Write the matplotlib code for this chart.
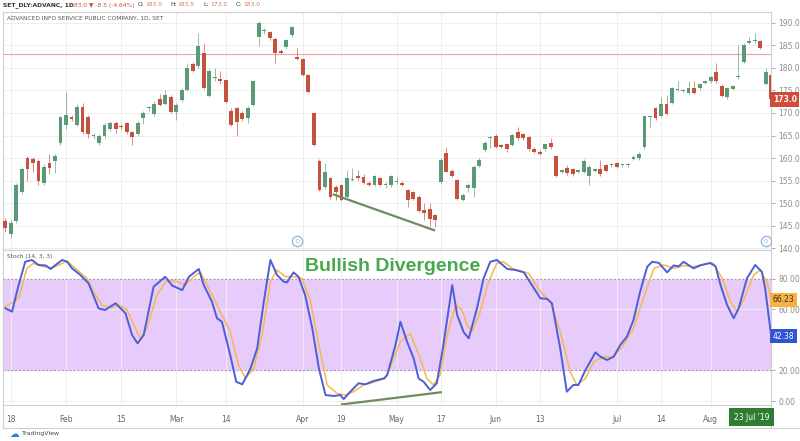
"""
ADVANC daily candles + Stoch(14,3,3) with bullish divergence annotation
"""
import matplotlib
matplotlib.use("Agg")
import matplotlib.pyplot as plt
from matplotlib.lines import Line2D
from matplotlib.transforms import blended_transform_factory

# OHLC per trading day (bar index 0 = Jan 17 2019)
opens = [146.1, 143.1, 146.1, 152.5, 160.1, 159.8, 159.4, 154.5, 159.0, 159.4,
         163.4, 167.3, 169.0, 167.3, 171.4, 169.0, 164.9, 163.4, 164.9, 166.4,
         167.8, 167.1, 167.8, 165.8, 165.3, 168.8, 171.0, 169.8, 173.0, 172.0,
         173.5, 170.3, 172.9, 175.0, 180.9, 180.4, 183.4, 173.8, 177.7, 177.5,
         177.3, 170.5, 171.0, 170.0, 168.8, 171.8, 186.8, 188.2, 187.9, 186.4,
         183.8, 184.7, 187.2, 182.4, 181.9, 178.4, 169.9, 159.4, 153.5, 155.5,
         153.6, 154.0, 151.4, 155.1, 156.0, 155.8, 154.4, 154.0, 155.5, 154.0,
         154.0, 154.7, 154.5, 152.9, 152.5, 151.4, 148.4, 148.6, 147.3, 154.7,
         161.2, 157.2, 155.1, 150.8, 153.3, 153.3, 158.3, 161.8, 164.4, 164.9,
         162.9, 163.1, 162.9, 165.8, 165.3, 164.6, 162.1, 161.4, 161.9, 163.4,
         160.4, 157.0, 157.7, 157.5, 157.0, 157.0, 156.0, 157.2, 157.5, 158.4,
         158.4, 158.8, 158.4, 158.4, 159.8, 159.9, 162.4, 169.0, 171.0, 169.3,
         171.9, 172.2, 175.1, 174.9, 174.4, 175.5, 175.5, 176.7, 177.0, 179.0,
         175.9, 173.5, 175.3, 177.9, 181.4, 185.6, 185.9, 185.9, 176.4, 178.4]
highs = [146.8, 146.3, 154.5, 158.0, 160.5, 160.2, 159.8, 158.6, 161.0, 160.8,
         169.3, 174.7, 169.5, 172.0, 172.3, 169.5, 165.6, 165.4, 167.8, 168.3,
         168.2, 167.5, 168.1, 166.0, 168.2, 170.5, 171.6, 172.6, 174.3, 175.0,
         174.0, 172.2, 175.5, 181.0, 181.2, 187.8, 185.5, 179.8, 180.0, 179.4,
         177.6, 171.0, 171.3, 170.4, 171.5, 177.3, 190.3, 188.8, 188.2, 186.8,
         184.2, 186.5, 189.3, 184.4, 182.2, 178.6, 170.2, 159.7, 158.8, 155.8,
         154.0, 154.3, 157.3, 157.8, 157.3, 156.5, 154.8, 156.3, 155.8, 154.6,
         156.3, 155.7, 154.8, 153.2, 152.8, 151.7, 150.0, 150.1, 147.6, 159.9,
         162.5, 157.5, 155.4, 152.3, 154.4, 158.4, 159.9, 163.7, 165.0, 165.3,
         163.2, 163.4, 165.4, 166.8, 165.6, 164.9, 162.4, 161.7, 163.4, 164.4,
         160.7, 157.6, 158.4, 157.8, 157.4, 159.7, 158.4, 157.6, 159.6, 158.7,
         158.8, 159.1, 158.8, 158.8, 160.6, 161.3, 169.6, 169.4, 171.3, 173.5,
         174.0, 175.8, 177.0, 175.4, 177.0, 177.0, 176.7, 177.4, 178.2, 181.0,
         176.4, 175.8, 176.2, 185.0, 185.5, 186.8, 187.8, 186.2, 180.0, 178.7]
lows = [143.5, 142.2, 145.5, 152.0, 155.0, 157.0, 154.0, 154.0, 156.5, 156.7,
        163.0, 166.5, 168.2, 167.0, 165.3, 164.5, 164.3, 162.8, 164.5, 166.0,
        165.5, 166.5, 165.3, 163.0, 165.0, 167.5, 170.5, 169.3, 171.5, 171.8,
        170.0, 168.5, 172.5, 174.8, 179.0, 180.0, 175.3, 173.5, 177.0, 176.5,
        172.2, 167.0, 164.8, 168.3, 167.8, 171.5, 184.9, 187.5, 186.2, 181.0,
        183.0, 184.3, 186.8, 181.7, 178.1, 174.5, 162.6, 152.6, 153.2, 151.0,
        150.7, 150.5, 151.1, 154.8, 155.2, 154.2, 153.8, 153.7, 153.8, 153.3,
        153.6, 154.3, 153.8, 149.2, 150.7, 148.0, 146.3, 144.9, 144.7, 154.3,
        156.8, 155.7, 150.6, 150.5, 152.5, 151.4, 158.0, 161.4, 162.3, 162.2,
        162.2, 161.4, 162.6, 164.1, 164.1, 161.6, 161.1, 160.6, 161.6, 162.1,
        155.7, 156.7, 156.3, 156.1, 156.7, 156.7, 154.0, 156.9, 156.1, 156.9,
        158.1, 157.8, 158.1, 158.1, 159.5, 159.6, 162.1, 166.6, 168.5, 169.0,
        169.5, 171.9, 174.8, 174.6, 174.1, 174.1, 175.2, 176.4, 176.7, 176.7,
        173.5, 173.2, 175.0, 177.6, 181.1, 185.3, 185.6, 184.1, 176.1, 172.7]
closes = [144.4, 145.6, 154.0, 157.5, 157.5, 158.8, 155.0, 158.1, 157.9, 160.4,
          169.0, 169.6, 168.7, 171.4, 165.8, 165.3, 165.0, 164.9, 167.3, 167.8,
          166.4, 166.9, 165.8, 164.7, 167.8, 170.1, 171.2, 172.0, 171.8, 174.0,
          170.3, 171.8, 175.1, 179.9, 179.4, 184.9, 175.5, 179.4, 177.9, 177.2,
          172.5, 167.3, 168.1, 168.6, 171.0, 177.0, 189.9, 188.4, 186.6, 183.3,
          183.4, 186.1, 189.0, 182.0, 178.4, 174.7, 162.9, 152.9, 157.0, 151.4,
          152.5, 150.8, 155.5, 155.3, 155.5, 154.5, 154.0, 156.0, 154.0, 154.2,
          156.0, 154.8, 154.1, 150.8, 151.0, 148.3, 147.7, 146.4, 146.2, 159.6,
          157.0, 156.0, 150.9, 151.9, 154.0, 158.1, 159.6, 163.4, 164.7, 162.5,
          162.5, 161.9, 165.1, 164.4, 164.4, 161.9, 161.4, 160.9, 163.1, 162.4,
          156.0, 157.3, 156.6, 156.4, 157.1, 159.4, 158.1, 157.3, 156.4, 157.2,
          158.5, 158.1, 158.5, 158.5, 160.3, 161.0, 169.3, 169.1, 168.8, 171.9,
          169.8, 175.5, 175.2, 175.0, 175.5, 174.4, 176.4, 177.1, 177.9, 177.0,
          173.8, 175.5, 175.9, 178.2, 185.1, 185.7, 186.0, 184.4, 179.0, 173.0]

tick_pos = [1, 11, 21, 31, 40, 54, 61, 71, 79, 89, 97, 111, 119, 128]
tick_lbl = ["18", "Feb", "15", "Mar", "14", "Apr", "19", "May", "17", "Jun",
            "13", "Jul", "14", "Aug"]

# Stoch %K (blue) and %D (orange) vertices: bar position, value
k_pos = [0.0, 1.2, 2.4, 3.6, 4.8, 6.0, 7.3, 8.2, 9.1, 10.3, 11.2, 12.1, 13.6, 15.1,
         16.9, 18.1, 20.0, 21.8, 23.0, 24.0, 25.1, 26.9, 29.0, 30.3, 32.1, 33.3,
         35.1, 36.0, 37.5, 38.4, 39.3, 40.8, 41.9, 43.0, 44.5, 45.7, 46.9, 48.1,
         49.3, 50.5, 51.1, 52.3, 53.2, 54.4, 55.7, 56.9, 58.1, 59.6, 60.8, 61.4,
         62.6, 64.1, 65.3, 66.8, 68.7, 69.3, 70.8, 71.7, 72.9, 74.1, 75.0, 75.9,
         77.1, 78.3, 79.5, 81.1, 82.0, 83.2, 84.1, 85.6, 86.8, 88.0, 89.2, 91.1,
         92.6, 94.1, 97.1, 98.3, 99.2, 100.7, 101.9, 103.1, 104.0, 105.3, 107.1,
         108.0, 109.2, 110.4, 111.6, 112.8, 114.0, 115.2, 116.5, 117.4, 118.6,
         120.1, 121.3, 122.2, 123.1, 124.9, 126.1, 127.9, 128.9, 129.8, 131.0,
         132.2, 133.1, 134.6, 136.1, 137.3, 137.9, 139.0]
k_val = [60.6, 58.4, 75.8, 91.0, 92.2, 88.9, 88.6, 86.3, 88.9, 92.2, 91.0, 86.7,
         82.4, 76.9, 60.6, 59.5, 63.9, 57.3, 43.1, 37.7, 43.1, 74.7, 81.2, 75.4,
         72.5, 81.2, 86.3, 75.8, 64.9, 54.1, 51.8, 30.1, 12.6, 10.9, 21.4, 34.4,
         64.9, 92.2, 82.4, 78.0, 77.5, 84.1, 81.2, 69.3, 47.5, 21.4, 3.9, 3.3,
         3.9, 1.3, 6.1, 11.6, 10.9, 13.1, 14.8, 17.0, 36.6, 51.8, 38.8, 27.9,
         14.8, 12.6, 7.2, 11.6, 36.6, 75.8, 56.2, 44.9, 41.0, 60.6, 80.2, 91.0,
         92.2, 86.3, 85.6, 84.1, 67.1, 66.8, 63.9, 34.4, 6.1, 10.5, 10.5, 20.3,
         31.8, 29.0, 26.8, 29.0, 36.6, 42.0, 52.9, 71.4, 87.8, 91.0, 90.3, 84.1,
         88.6, 88.0, 91.0, 86.7, 88.6, 90.3, 88.0, 75.8, 62.7, 54.1, 60.6, 80.2,
         88.9, 84.5, 73.7, 42.38]
d_pos = [0.0, 2.4, 3.9, 5.1, 7.0, 8.5, 9.7, 11.2, 12.7, 14.8, 16.0, 17.5, 19.1,
         20.6, 22.1, 23.3, 24.5, 25.7, 27.5, 29.3, 31.2, 32.7, 34.2, 35.4, 37.2,
         39.0, 40.8, 42.3, 43.6, 45.1, 46.6, 48.1, 49.3, 50.8, 52.3, 53.8, 55.4,
         56.9, 58.4, 60.2, 61.7, 63.2, 65.0, 66.8, 69.0, 70.5, 71.7, 73.5, 75.3,
         76.5, 77.7, 78.9, 80.2, 81.7, 82.9, 83.8, 84.7, 86.2, 87.7, 89.2, 90.4,
         92.0, 93.5, 95.0, 97.1, 98.9, 100.7, 102.5, 103.7, 105.3, 106.8, 108.6,
         110.4, 112.2, 114.0, 115.8, 117.7, 119.5, 121.3, 123.1, 124.9, 126.7,
         128.5, 130.1, 131.6, 132.8, 134.0, 135.8, 137.0, 138.2, 139.0]
d_val = [61.6, 67.1, 86.7, 90.0, 87.8, 87.1, 88.9, 91.5, 86.7, 80.2, 71.5, 62.7,
         61.0, 62.7, 59.5, 49.7, 40.9, 47.5, 69.3, 79.1, 78.0, 75.8, 81.3, 84.2,
         71.5, 58.4, 45.4, 23.5, 14.8, 21.4, 43.1, 78.0, 85.6, 81.3, 81.3, 80.2,
         65.0, 36.6, 10.5, 5.0, 3.9, 6.1, 10.5, 12.2, 14.8, 27.9, 38.8, 44.2,
         27.9, 14.8, 10.5, 17.0, 43.1, 62.7, 59.5, 49.7, 45.4, 58.4, 78.0, 90.0,
         91.1, 86.7, 85.0, 83.4, 71.5, 64.9, 45.4, 19.3, 10.5, 14.8, 25.7, 28.9,
         28.9, 36.6, 47.5, 67.1, 86.7, 88.9, 86.7, 88.5, 87.8, 89.4, 90.0, 80.2,
         65.0, 58.4, 66.0, 82.3, 85.6, 78.0, 66.23]

# divergence trend lines (bar position, value)
div_price_pos = [59.6, 77.8]
div_price_val = [151.9, 144.0]
div_stoch_pos = [61.1, 79.0]
div_stoch_val = [-2.2, 5.7]
div_marks = [53, 138]   # "D" event markers

UP = "#5a9a76"
DOWN = "#c4523f"
GRID = "#eeeeee"
AXC = "#8c8c8c"


def main():
    fig = plt.figure(figsize=(8, 4.41), dpi=100)
    fig.patch.set_facecolor("white")
    ax1 = fig.add_axes([0.004, 0.4331, 0.96, 0.5397])
    ax2 = fig.add_axes([0.004, 0.0816, 0.96, 0.3515], sharex=ax1)

    n = len(closes)
    xs = list(range(n))
    cols = [UP if c >= o else DOWN for o, c in zip(opens, closes)]
    bottoms = [min(o, c) for o, c in zip(opens, closes)]
    heights = [max(abs(c - o), 0.3) for o, c in zip(opens, closes)]

    # 价格面板
    ax1.vlines(xs, lows, highs, colors=cols, linewidth=0.6, alpha=0.75, zorder=2)
    ax1.bar(xs, heights, bottom=bottoms, width=0.7, color=cols, linewidth=0, zorder=3)
    ax1.axhline(183.0, color="#eba3a3", linewidth=0.8, zorder=1)
    ax1.plot(div_price_pos, div_price_val, color="#6f8c5d", linewidth=1.6, zorder=4)
    ax1.scatter(div_marks, [141.5, 141.5], s=55, facecolor="white",
                edgecolor="#8fb3e0", linewidth=0.9, zorder=5)
    for m in div_marks:
        ax1.text(m, 141.5, "D", fontsize=4, color="#8fb3e0", ha="center", va="center", zorder=6)
    ax1.set_ylim(139.6, 192.4)
    ax1.set_yticks(range(140, 191, 5))
    ax1.set_yticklabels([f"{v:.1f}" for v in range(140, 191, 5)])
    ax1.text(0.005, 0.985, "ADVANCED INFO SERVICE PUBLIC COMPANY, 1D, SET",
             transform=ax1.transAxes, fontsize=4.2, color="#555555", va="top")

    # Stoch 面板
    ax2.axhspan(20, 80, color="#e7cbfa", zorder=0)
    ax2.axhline(80, color="#a08cb0", linewidth=0.7, linestyle=(0, (2, 2)), zorder=1)
    ax2.axhline(20, color="#a08cb0", linewidth=0.7, linestyle=(0, (2, 2)), zorder=1)
    ax2.plot(d_pos, d_val, color="#f5b84e", linewidth=1.1, zorder=3)
    ax2.plot(k_pos, k_val, color="#4c5fd6", linewidth=1.4, zorder=4)
    ax2.plot(div_stoch_pos, div_stoch_val, color="#6f8c5d", linewidth=1.6, zorder=5)
    ax2.set_ylim(-2.6, 98.7)
    ax2.set_yticks([0, 20, 60, 80])
    ax2.set_yticklabels(["0.00", "20.00", "60.00", "80.00"])
    ax2.text(0.005, 0.975, "Stoch (14, 3, 3)", transform=ax2.transAxes,
             fontsize=4.2, color="#555555", va="top")
    ax2.text(70.2, 88, "Bullish Divergence", fontsize=14, fontweight="bold",
             family=["Liberation Sans", "DejaVu Sans"], color="#47a84c",
             ha="center", va="center", zorder=6)

    ax2.set_xlim(-0.4, 139.0)
    ax2.set_xticks(tick_pos)
    ax2.set_xticklabels(tick_lbl)

    for ax in (ax1, ax2):
        ax.set_facecolor("white")
        ax.grid(True, color=GRID, linewidth=0.7, zorder=0)
        ax.set_axisbelow(True)
        ax.yaxis.tick_right()
        ax.tick_params(axis="y", labelsize=5.5, colors=AXC, length=3, width=0.5, pad=2)
        ax.tick_params(axis="x", labelsize=5.5, colors="#666666", length=0, pad=7)
        for s in ax.spines.values():
            s.set_color("#cfcfcf")
            s.set_linewidth(0.8)
    ax1.tick_params(axis="x", labelbottom=False)

    # 右侧数值标签
    tr1 = blended_transform_factory(ax1.transAxes, ax1.transData)
    tr2 = blended_transform_factory(ax2.transAxes, ax2.transData)
    ax1.text(1.002, 173.0, "173.0", transform=tr1, fontsize=5.5, color="white",
             va="center", ha="left", fontweight="bold",
             bbox=dict(boxstyle="square,pad=0.35", facecolor="#d24a3a", edgecolor="none"))
    ax2.text(1.002, 66.23, "66.23", transform=tr2, fontsize=5.5, color="#333333",
             va="center", ha="left",
             bbox=dict(boxstyle="square,pad=0.35", facecolor="#f6b23c", edgecolor="none"))
    ax2.text(1.002, 42.38, "42.38", transform=tr2, fontsize=5.5, color="white",
             va="center", ha="left",
             bbox=dict(boxstyle="square,pad=0.35", facecolor="#2f54d4", edgecolor="none"))
    fig.text(751.5 / 800, 1 - 417 / 441, "23 Jul '19", fontsize=5.5, color="white",
             ha="center", va="center",
             bbox=dict(boxstyle="square,pad=0.6", facecolor="#2f7d32", edgecolor="none"))

    # 外框
    yb = 1 - 428 / 441
    fig.add_artist(Line2D([0.004, 1.0], [yb, yb], color="#cfcfcf", linewidth=0.8))
    fig.add_artist(Line2D([0.004, 0.004], [yb, 0.0816], color="#cfcfcf", linewidth=0.8))
    fig.add_artist(Line2D([0.964, 0.964], [yb, 0.0816], color="#cfcfcf", linewidth=0.8))

    # 顶部标题行
    hy = 1 - 5 / 441
    fig.text(0.004, hy, "SET_DLY:ADVANC, 1D", fontsize=4.3, color="#333333",
             va="center", fontweight="bold")
    fig.text(0.088, hy, "183.0 \u25bc -8.5 (-4.64%)", fontsize=4.3, color="#c4523f", va="center")
    items = [("O:", "183.0"), ("H:", "183.5"), ("L:", "173.0"), ("C:", "183.0")]
    x0 = 0.172
    for k, v in items:
        fig.text(x0, hy, k, fontsize=4.3, color="#333333", va="center")
        fig.text(x0 + 0.009, hy, v, fontsize=4.3, color="#e07060", va="center")
        x0 += 0.041

    # TradingView 标志
    fig.text(0.012, 1 - 434 / 441, "\u2601", fontsize=7, color="#3a7bd5", va="center")
    fig.text(0.028, 1 - 434 / 441, "TradingView", fontsize=4.5, color="#444444", va="center")

    fig.savefig("out.png", dpi=100)
    plt.close(fig)


if __name__ == "__main__":
    main()
